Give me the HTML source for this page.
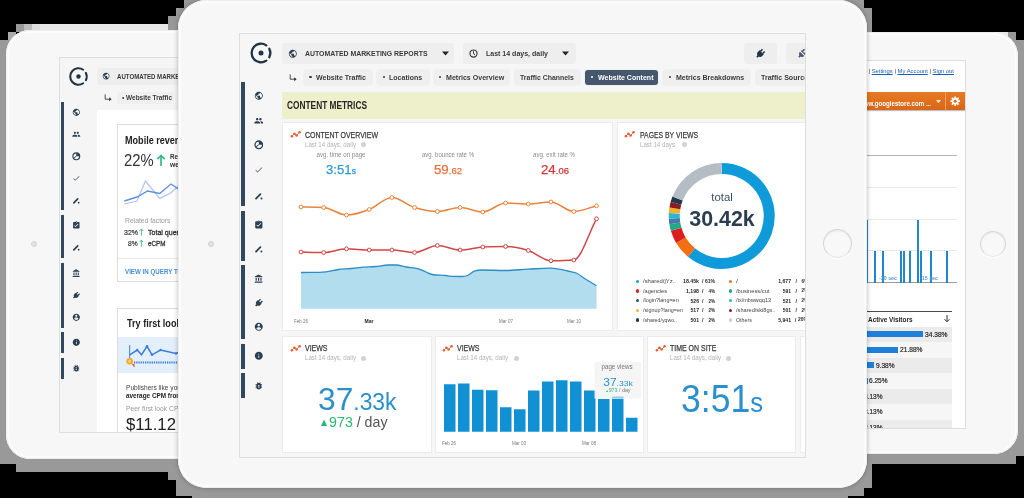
<!DOCTYPE html>
<html>
<head>
<meta charset="utf-8">
<title>Automated Marketing Reports</title>
<style>
*{box-sizing:border-box;margin:0;padding:0}
html,body{width:1024px;height:498px;overflow:hidden;background:#000}
body{position:relative;font-family:"Liberation Sans",sans-serif;color:#333;-webkit-font-smoothing:antialiased}
.abs{position:absolute}
#shadow{position:absolute;left:0;top:0;width:1024px;height:498px}
.tablet{position:absolute;background:#f7f7f7;overflow:hidden}
.tablet:after{content:"";position:absolute;left:0;top:0;right:0;bottom:0;border-radius:inherit;box-shadow:inset 0 0 0 1px #ededed, inset 0 0 0 3px #fcfcfc;pointer-events:none}
#tl{left:6px;top:30px;width:300px;height:429px;border-radius:24px}
#tr{left:720px;top:32px;width:298px;height:422px;border-radius:24px}
#tc{left:178px;top:0px;width:689px;height:488px;border-radius:28px;box-shadow:0 0 5px rgba(0,0,0,.28)}
.screen{position:absolute;overflow:hidden;background:#f6f6f6;border:1px solid #dedede}
.t{position:absolute;white-space:nowrap;line-height:1}
.pill{position:absolute;background:#eeeeee;border-radius:3px}
.card{position:absolute;background:#fff;border:1px solid #ececec}
.home{position:absolute;border-radius:50%;border:1.3px solid #d6d6d6;border-bottom-color:#e6e6e6;background:#f8f8f8;box-shadow:inset 0 1px 2px rgba(0,0,0,.07),0 1px 1px #fff}
.sb{position:absolute;background:#2f4a60}
.tab{top:70px;height:15px;font-size:7.6px;font-weight:bold;color:#3c3c3c;text-align:center;line-height:15px;white-space:nowrap;background:#efefef;box-shadow:0 0 0 1px #f0f0f0}
.tab.act{background:#44576d;color:#fff}
.tab span{display:inline-block}
</style>
</head>
<body>
<!-- blocky shadow layer -->
<svg id="shadow" viewBox="0 0 1024 498" shape-rendering="crispEdges">
  <g fill="#999">
    <rect x="0" y="40" width="16" height="424"/>
    <rect x="8" y="32" width="8" height="8" fill="#aaa"/>
    <rect x="16" y="24" width="8" height="8"/>
    <rect x="24" y="24" width="8" height="8" fill="#bbb"/>
    <rect x="32" y="24" width="8" height="8" fill="#ddd"/>
    <rect x="40" y="24" width="136" height="8" fill="#e8e8e8"/>
    <rect x="168" y="16" width="16" height="16"/>
    <rect x="176" y="8" width="16" height="16"/>
    <rect x="184" y="0" width="24" height="8"/>
    <rect x="16" y="440" width="152" height="32"/>
    <rect x="168" y="440" width="8" height="40"/>
    <rect x="176" y="440" width="16" height="56"/>
    <rect x="192" y="440" width="656" height="58"/>
    <rect x="848" y="440" width="16" height="56"/>
    <rect x="864" y="440" width="8" height="48"/>
    <rect x="872" y="440" width="144" height="24"/>
    <rect x="1008" y="40" width="16" height="416"/>
    <rect x="1008" y="32" width="8" height="8"/>
    <rect x="840" y="0" width="24" height="8"/>
    <rect x="856" y="8" width="16" height="24"/>
    <rect x="872" y="32" width="136" height="8" fill="#e8e8e8"/>
  </g>
</svg>

<!-- LEFT TABLET -->
<div class="tablet" id="tl">
  <div class="abs" style="left:25px;top:211px;width:6px;height:6px;border-radius:50%;background:#e2e2e2;border:1px solid #d4d4d4"></div>
  <div class="screen" id="sl" style="left:53px;top:27px;width:260px;height:375.5px;background:#f5f5f5">
  <div class="abs" style="left:-60px;top:-58px;width:1024px;height:498px;filter:blur(.45px)">
    <!-- white content area -->
    <div class="abs" style="left:97px;top:109.5px;width:120px;height:340px;background:#fff"></div>
    <!-- logo -->
    <svg class="abs" style="left:66.5px;top:64.5px" width="23" height="23" viewBox="-13 -13 26 26">
      <g fill="none" stroke="#1f3547" stroke-width="2.3" stroke-linecap="round">
        <path d="M5.3 -7.6 A9.3 9.3 0 1 0 5.3 7.6"/>
        <path d="M8.3 -4.2 A9.3 9.3 0 0 1 8.3 4.2"/>
      </g>
      <circle r="2.5" fill="#1f3547"/>
    </svg>
    <div class="pill" style="left:96.5px;top:67.5px;width:120px;height:17.5px"></div>
    <svg class="abs" style="left:102.2px;top:72px" width="8.2" height="8.2" viewBox="0 0 24 24"><path fill="#2a3f52" d="M12 2C6.48 2 2 6.48 2 12s4.48 10 10 10 10-4.48 10-10S17.52 2 12 2zm-1 17.93c-3.95-.49-7-3.85-7-7.93 0-.62.08-1.21.21-1.79L9 15v1c0 1.1.9 2 2 2v1.93zm6.9-2.54c-.26-.81-1-1.39-1.9-1.39h-1v-3c0-.55-.45-1-1-1H8v-2h2c.55 0 1-.45 1-1V7h2c1.1 0 2-.9 2-2v-.41c2.93 1.19 5 4.06 5 7.41 0 2.08-.8 3.97-2.1 5.39z"/></svg>
    <svg class="abs" style="left:104px;top:94px" width="8" height="8" viewBox="0 0 10 10"><path d="M1.5 0.5v6h6" fill="none" stroke="#333" stroke-width="1.1"/><path d="M6.5 4l3 2.5-3 2.5z" fill="#333"/></svg>
    <div class="pill" style="left:116.6px;top:91.6px;width:57px;height:12px;background:#efefef"></div>
    <!-- sidebar -->
    <div class="sb" style="left:60.7px;top:102px;width:3.4px;height:108.4px"></div>
    <div class="sb" style="left:60.7px;top:215px;width:3.4px;height:43px"></div>
    <div class="sb" style="left:60.7px;top:263px;width:3.4px;height:65px"></div>
    <div class="sb" style="left:60.7px;top:332.3px;width:3.4px;height:21px"></div>
    <div class="sb" style="left:60.7px;top:357.6px;width:3.4px;height:21.7px"></div>
    <svg class="abs" style="left:72.4px;top:108.1px" width="8.6" height="8.6" viewBox="0 0 24 24"><path fill="#2a3f52" d="M12 2C6.48 2 2 6.48 2 12s4.48 10 10 10 10-4.48 10-10S17.52 2 12 2zm-1 17.93c-3.95-.49-7-3.85-7-7.93 0-.62.08-1.21.21-1.79L9 15v1c0 1.1.9 2 2 2v1.93zm6.9-2.54c-.26-.81-1-1.39-1.9-1.39h-1v-3c0-.55-.45-1-1-1H8v-2h2c.55 0 1-.45 1-1V7h2c1.1 0 2-.9 2-2v-.41c2.93 1.19 5 4.06 5 7.41 0 2.08-.8 3.97-2.1 5.39z"/></svg>
<svg class="abs" style="left:72.4px;top:130.0px" width="8.6" height="8.6" viewBox="0 0 24 24"><path fill="#2a3f52" d="M16 11c1.66 0 2.99-1.34 2.99-3S17.66 5 16 5c-1.66 0-3 1.34-3 3s1.34 3 3 3zm-8 0c1.66 0 2.99-1.34 2.99-3S9.66 5 8 5C6.34 5 5 6.34 5 8s1.34 3 3 3zm0 2c-2.33 0-7 1.17-7 3.5V19h14v-2.5c0-2.33-4.67-3.5-7-3.5zm8 0c-.29 0-.62.02-.97.05 1.16.84 1.97 1.97 1.97 3.45V19h6v-2.5c0-2.33-4.67-3.5-7-3.5z"/></svg>
<svg class="abs" style="left:72.4px;top:152.0px" width="8.6" height="8.6" viewBox="0 0 24 24"><circle cx="12" cy="12" r="9.5" fill="none" stroke="#2a3f52" stroke-width="3.2"/><path d="M12 12L12 3A9 9 0 0 1 21 12z" fill="#2a3f52"/><path d="M12 12L5 17" stroke="#2a3f52" stroke-width="2.5"/></svg>
<svg class="abs" style="left:72.4px;top:174.2px" width="8.6" height="8.6" viewBox="0 0 24 24"><path fill="#55616c" d="M9 16.17L4.83 12l-1.42 1.41L9 19 21 7l-1.41-1.41z"/></svg>
<svg class="abs" style="left:72.4px;top:195.7px" width="8.6" height="8.6" viewBox="0 0 24 24"><path d="M5 19L16 8" stroke="#2a3f52" stroke-width="4.6" stroke-linecap="round"/><circle cx="18.6" cy="18.6" r="2.5" fill="#2a3f52"/></svg>
<svg class="abs" style="left:72.4px;top:221.2px" width="8.6" height="8.6" viewBox="0 0 24 24"><path fill="#2a3f52" d="M19 3h-4.18C14.4 1.84 13.3 1 12 1c-1.3 0-2.4.84-2.82 2H5c-1.1 0-2 .9-2 2v14c0 1.1.9 2 2 2h14c1.1 0 2-.9 2-2V5c0-1.1-.9-2-2-2zm-7 0c.55 0 1 .45 1 1s-.45 1-1 1-1-.45-1-1 .45-1 1-1zm-2 14l-4-4 1.41-1.41L10 14.17l6.59-6.59L18 9l-8 8z"/></svg>
<svg class="abs" style="left:72.4px;top:243.2px" width="8.6" height="8.6" viewBox="0 0 24 24"><path d="M5 19L16 8" stroke="#2a3f52" stroke-width="4.6" stroke-linecap="round"/><circle cx="18.6" cy="18.6" r="2.5" fill="#2a3f52"/></svg>
<svg class="abs" style="left:72.4px;top:268.7px" width="8.6" height="8.6" viewBox="0 0 24 24"><path fill="#2a3f52" d="M4 10v7h3v-7H4zm6 0v7h3v-7h-3zM2 22h19v-3H2v3zm14-12v7h3v-7h-3zm-4.5-9L2 6v2h19V6l-9.5-5z"/></svg>
<svg class="abs" style="left:72.4px;top:290.7px" width="8.6" height="8.6" viewBox="0 0 24 24"><g transform="rotate(45 12 12)"><path d="M5.5 8.5h13v4.5a6.5 6.5 0 0 1-13 0z" fill="#2a3f52"/><path d="M8.7 2.5v7M15.3 2.5v7" stroke="#2a3f52" stroke-width="3.2"/><path d="M12 18v5" stroke="#2a3f52" stroke-width="4"/></g></svg>
<svg class="abs" style="left:72.4px;top:313.1px" width="8.6" height="8.6" viewBox="0 0 24 24"><path fill="#2a3f52" d="M12 2C6.48 2 2 6.48 2 12s4.48 10 10 10 10-4.48 10-10S17.52 2 12 2zm0 3c1.66 0 3 1.34 3 3s-1.34 3-3 3-3-1.34-3-3 1.34-3 3-3zm0 14.2c-2.5 0-4.71-1.28-6-3.22.030-1.99 4-3.08 6-3.08 1.99 0 5.97 1.09 6 3.08-1.29 1.94-3.5 3.22-6 3.22z"/></svg>
<svg class="abs" style="left:72.4px;top:338.4px" width="8.6" height="8.6" viewBox="0 0 24 24"><path fill="#2a3f52" d="M12 2C6.48 2 2 6.48 2 12s4.48 10 10 10 10-4.48 10-10S17.52 2 12 2zm1 15h-2v-6h2v6zm0-8h-2V7h2v2z"/></svg>
<svg class="abs" style="left:72.4px;top:364.0px" width="8.6" height="8.6" viewBox="0 0 24 24"><path fill="#2a3f52" d="M20 8h-2.81c-.45-.78-1.07-1.45-1.82-1.96L17 4.41 15.59 3l-2.17 2.17C12.96 5.06 12.49 5 12 5c-.49 0-.96.06-1.41.170L8.41 3 7 4.41l1.62 1.63C7.88 6.55 7.26 7.22 6.81 8H4v2h2.09c-.05.33-.09.66-.09 1v1H4v2h2v1c0 .34.04.67.09 1H4v2h2.81c1.04 1.79 2.97 3 5.19 3s4.15-1.21 5.19-3H20v-2h-2.09c.05-.33.09-.66.09-1v-1h2v-2h-2v-1c0-.34-.04-.67-.09-1H20V8zm-6 8h-4v-2h4v2zm0-4h-4v-2h4v2z"/></svg>
    <!-- card 1 -->
    <div class="abs" style="left:116.5px;top:123.5px;width:100px;height:158px;background:#fff;border:1px solid #dcdcdc"></div>
    <div class="abs" style="left:117.5px;top:258px;width:100px;height:1px;background:#e8e8e8"></div>
    <!-- card 2 -->
    <div class="abs" style="left:116.5px;top:307.5px;width:100px;height:140px;background:#fff;border:1px solid #dcdcdc"></div>
    <div class="abs" style="left:117.5px;top:336.5px;width:100px;height:36.5px;background:#e3effb"></div>
    <svg class="abs" style="left:0;top:0" width="1024" height="498" viewBox="0 0 1024 498">
      <path d="M124.3 204 L137 201 L145.4 181 L153.7 191 L159.7 198.4 L170 193.5 L178.5 186" fill="none" stroke="#aec4ee" stroke-width="1.2"/>
      <path d="M124.3 201 L137 197 L147.6 191 L159.7 193.5 L171 184 L178.5 189" fill="none" stroke="#5f90da" stroke-width="1.4"/>
      <!-- green arrows -->
      <g fill="none" stroke="#3bb98a" stroke-width="1.7"><path d="M161 166V155.5M157.3 159.2L161 155.5L164.7 159.2"/></g>
      <g fill="none" stroke="#3bb98a" stroke-width=".9"><path d="M141.4 235.5V229M139.5 231L141.4 229L143.3 231"/><path d="M141.4 246.7V240.2M139.5 242.2L141.4 240.2L143.3 242.2"/></g>
      <!-- mini chart card 2 -->
      <path d="M129.7 345V363" stroke="#3a7edc" stroke-width="1"/>
      <path d="M129.7 354.8L137.2 350L141.5 354.8L147 346.3L152 354.8L160.5 350L176 353.4L180 352" fill="none" stroke="#3a7edc" stroke-width="1.5"/>
      <g fill="#3a7edc"><circle cx="137.2" cy="350" r="1.2"/><circle cx="147" cy="346.3" r="1.2"/><circle cx="152" cy="354.8" r="1.2"/><circle cx="160.5" cy="350" r="1.2"/><circle cx="176" cy="353.4" r="1.2"/></g>
      <path d="M134 362.4H180" stroke="#3a7edc" stroke-width="2" stroke-dasharray="1.3 .9"/>
      <path d="M131 363l3.5 4.5 0-3z" fill="#e0452c"/>
      <circle cx="129.7" cy="361.2" r="3.3" fill="#f5a623"/>
      <circle cx="129.7" cy="361.2" r="1.6" fill="#fbd27a"/>
    </svg>
    <div class="t" id="L1" style="left:117.00px;top:72.63px;font-size:7.4px;color:#3a3a3a;font-weight:bold;transform-origin:0 50%;transform:scaleX(0.8249)">AUTOMATED MARKETING</div>
<div class="t" id="L2" style="left:121.70px;top:94.82px;font-size:6.8px;color:#3c3c3c;font-weight:bold;transform-origin:0 50%;transform:scaleX(0.9524)">&bull; Website Traffic</div>
<div class="t" id="L3" style="left:124.50px;top:135.58px;font-size:10.2px;color:#222;font-weight:bold;transform-origin:0 50%;transform:scaleX(0.8898)">Mobile revenue</div>
<div class="t" id="L4" style="left:124.30px;top:152.39px;font-size:16.2px;color:#333;transform-origin:0 50%;transform:scaleX(0.9165)">22%</div>
<div class="t" id="L5" style="left:169.80px;top:153.82px;font-size:6.8px;color:#333;font-weight:bold;transform-origin:0 50%;transform:scaleX(0.9192)">Re</div>
<div class="t" id="L6" style="left:169.80px;top:161.51px;font-size:6.8px;color:#333;font-weight:bold;transform-origin:0 50%;transform:scaleX(0.9914)">we</div>
<div class="t" id="L7" style="left:124.50px;top:217.52px;font-size:6.8px;color:#9a9a9a;transform-origin:0 50%;transform:scaleX(0.9952)">Related factors</div>
<div class="t" id="L8" style="left:123.70px;top:228.54px;font-size:7.8px;color:#333;-webkit-text-stroke:.2px #333;transform-origin:0 50%;transform:scaleX(0.8969)">32%</div>
<div class="t" id="L9" style="left:147.80px;top:229.13px;font-size:7px;color:#333;-webkit-text-stroke:.3px #333;transform-origin:0 50%;transform:scaleX(1.0073)">Total query</div>
<div class="t" id="L10" style="left:128.00px;top:239.74px;font-size:7.8px;color:#333;-webkit-text-stroke:.2px #333;transform-origin:0 50%;transform:scaleX(0.8598)">8%</div>
<div class="t" id="L11" style="left:147.80px;top:240.33px;font-size:7px;color:#333;-webkit-text-stroke:.3px #333;transform-origin:0 50%;transform:scaleX(0.8996)">eCPM</div>
<div class="t" id="L12" style="left:124.50px;top:268.82px;font-size:6.4px;color:#4a8fd8;font-weight:bold;transform-origin:0 50%;transform:scaleX(0.9697)">VIEW IN QUERY TOOL</div>
<div class="t" id="L13" style="left:126.50px;top:318.58px;font-size:10.2px;color:#222;font-weight:bold;transform-origin:0 50%;transform:scaleX(0.8914)">Try first look</div>
<div class="t" id="L14" style="left:126.00px;top:384.92px;font-size:6.4px;color:#444;transform-origin:0 50%;transform:scaleX(1.0320)">Publishers like you</div>
<div class="t" id="L15" style="left:126.00px;top:392.94px;font-size:6.4px;color:#222;font-weight:bold;transform-origin:0 50%;transform:scaleX(0.9978)">average CPM from</div>
<div class="t" id="L16" style="left:126.00px;top:405.82px;font-size:6.6px;color:#999;transform-origin:0 50%;transform:scaleX(1.0212)">Peer first look CPM</div>
<div class="t" id="L17" style="left:126.00px;top:415.80px;font-size:16.4px;color:#222;transform-origin:0 50%;transform:scaleX(1.0220)">$11.12</div>
  </div>
  </div>
</div>

<!-- RIGHT TABLET -->
<div class="tablet" id="tr">
  <div class="home" style="left:260px;top:199px;width:26px;height:26px"></div>
  <div class="screen" id="sr" style="left:-20px;top:28px;width:266px;height:369px;background:#fff">
  <div class="abs" style="left:-701px;top:-61px;width:1024px;height:498px;filter:blur(.45px)">
    <!-- orange bar -->
    <div class="abs" style="left:800px;top:92px;width:165px;height:17.6px;background:linear-gradient(#e87a22,#d9661a);box-shadow:0 1px 1px rgba(0,0,0,.25)"></div>
    <div class="abs" style="left:944.6px;top:92px;width:1px;height:17.6px;background:#f0a264"></div>
    <svg class="abs" style="left:935.5px;top:99.5px" width="5" height="3.4" viewBox="0 0 5 3.4"><path d="M0 0h5L2.5 3.4z" fill="#ffe3c8"/></svg>
    <!-- gear -->
    <svg class="abs" style="left:950.4px;top:95.6px" width="10.4" height="10.4" viewBox="0 0 24 24">
      <g stroke="#fff" stroke-width="4" stroke-linecap="butt"><path d="M12 1v22M1 12h22M4.2 4.2l15.6 15.6M19.8 4.2L4.2 19.8"/></g>
      <circle cx="12" cy="12" r="7.5" fill="#fff"/><circle cx="12" cy="12" r="3.6" fill="#dd6c1d"/>
    </svg>
    <!-- chart -->
    <svg class="abs" style="left:0;top:0" width="1024" height="498" viewBox="0 0 1024 498" shape-rendering="crispEdges">
      <g stroke="#e7e7e7" stroke-width="1"><path d="M860 187.5H957M860 219.5H957M860 250.5H957"/></g>
      <path d="M860 155.5H957" stroke="#b5b5b5" stroke-width="1"/>
      <path d="M860 282.5H957" stroke="#9a9a9a" stroke-width="1"/>
      <g fill="#2287d0">
        <rect x="866.2" y="219.5" width="1.6" height="63"/>
        <rect x="873.6" y="250.5" width="2.2" height="32"/>
        <rect x="881.5" y="250.5" width="2.2" height="32"/>
        <rect x="900.3" y="250.5" width="2" height="32"/>
        <rect x="903.2" y="250.5" width="2" height="32"/>
        <rect x="908.8" y="250.5" width="2.2" height="32"/>
        <rect x="916.6" y="219.5" width="2.4" height="63"/>
        <rect x="919.7" y="250.5" width="2" height="32"/>
        <rect x="930" y="250.5" width="2.2" height="32"/>
        <rect x="946.2" y="250.5" width="2.2" height="32"/>
      </g>
    </svg>
    <!-- table -->
    <div class="abs" style="left:860px;top:310.7px;width:91.5px;height:1.2px;background:#4a4a4a"></div>
    <div class="abs" style="left:860px;top:326.7px;width:91.5px;height:15.5px;background:#ebebeb"></div>
    <div class="abs" style="left:860px;top:342.2px;width:91.5px;height:15.5px;background:#f6f6f6"></div>
    <div class="abs" style="left:860px;top:357.7px;width:91.5px;height:15.5px;background:#ebebeb"></div>
    <div class="abs" style="left:860px;top:373.2px;width:91.5px;height:15.6px;background:#f6f6f6"></div>
    <div class="abs" style="left:860px;top:388.8px;width:91.5px;height:15.5px;background:#ebebeb"></div>
    <div class="abs" style="left:860px;top:404.3px;width:91.5px;height:15.5px;background:#f6f6f6"></div>
    <div class="abs" style="left:860px;top:419.8px;width:91.5px;height:12px;background:#ebebeb"></div>
    <div class="abs" style="left:860px;top:331px;width:62.7px;height:6px;background:#1f80d8"></div>
    <div class="abs" style="left:860px;top:346.5px;width:38px;height:6px;background:#1f80d8"></div>
    <div class="abs" style="left:860px;top:362px;width:14px;height:6px;background:#1f80d8"></div>
    <div class="abs" style="left:860px;top:377.6px;width:8px;height:6px;background:#1f80d8"></div>
    <svg class="abs" style="left:943.6px;top:315px" width="6" height="7.6" viewBox="0 0 6 7.6"><path d="M3 0V6.6M0.5 4.2L3 6.8L5.5 4.2" fill="none" stroke="#333" stroke-width="1"/></svg>
    <div class="t" id="R1" style="left:954.30px;top:68.21px;font-size:6.2px;color:#333;transform-origin:100% 50%;transform:translateX(-100%) scaleX(0.9449)">| <span style="color:#1a5fb4;text-decoration:underline">Settings</span> | <span style="color:#1a5fb4;text-decoration:underline">My Account</span> | <span style="color:#1a5fb4;text-decoration:underline">Sign out</span></div>
<div class="t" id="R2" style="left:930.50px;top:100.61px;font-size:6.8px;color:#fff;font-weight:bold;transform-origin:100% 50%;transform:translateX(-100%) scaleX(0.9021)">www.googlestore.com ...</div>
<div class="t" id="R3" style="left:888.00px;top:275.90px;font-size:5.6px;color:#5b9bd9;font-weight:bold;transform-origin:50% 50%;transform:translateX(-50%) scaleX(0.9481)">-30 sec</div>
<div class="t" id="R4" style="left:929.00px;top:275.90px;font-size:5.6px;color:#5b9bd9;font-weight:bold;transform-origin:50% 50%;transform:translateX(-50%) scaleX(0.9481)">-15 sec</div>
<div class="t" id="R5" style="left:868.00px;top:315.83px;font-size:7px;color:#222;font-weight:bold;transform-origin:0 50%;transform:scaleX(0.9172)">Active Visitors</div>
<div class="t" id="R6" style="left:924.70px;top:331.52px;font-size:6.6px;color:#2a2a2a;-webkit-text-stroke:.2px #2a2a2a;transform-origin:0 50%;transform:scaleX(1.0056)">34.38%</div>
<div class="t" id="R7" style="left:900.00px;top:346.52px;font-size:6.6px;color:#2a2a2a;-webkit-text-stroke:.2px #2a2a2a;transform-origin:0 50%;transform:scaleX(1.0056)">21.88%</div>
<div class="t" id="R8" style="left:875.70px;top:362.52px;font-size:6.6px;color:#2a2a2a;-webkit-text-stroke:.2px #2a2a2a;transform-origin:0 50%;transform:scaleX(0.9945)">9.38%</div>
<div class="t" id="R9" style="left:869.30px;top:377.62px;font-size:6.6px;color:#2a2a2a;-webkit-text-stroke:.2px #2a2a2a;transform-origin:0 50%;transform:scaleX(0.9945)">6.25%</div>
<div class="t" id="R10" style="left:863.60px;top:393.72px;font-size:6.6px;color:#2a2a2a;-webkit-text-stroke:.2px #2a2a2a;transform-origin:0 50%;transform:scaleX(0.9945)">3.13%</div>
<div class="t" id="R11" style="left:863.60px;top:408.82px;font-size:6.6px;color:#2a2a2a;-webkit-text-stroke:.2px #2a2a2a;transform-origin:0 50%;transform:scaleX(0.9945)">3.13%</div>
<div class="t" id="R12" style="left:863.60px;top:424.92px;font-size:6.6px;color:#2a2a2a;-webkit-text-stroke:.2px #2a2a2a;transform-origin:0 50%;transform:scaleX(0.9945)">3.13%</div>
  </div>
  </div>
</div>

<!-- CENTER TABLET -->
<div class="tablet" id="tc">
  <div class="abs" style="left:29.5px;top:241px;width:6px;height:6px;border-radius:50%;background:#e2e2e2;border:1px solid #d4d4d4"></div>
  <div class="abs" style="left:26px;top:0;width:637px;height:1px;background:#b4b4b4"></div>
  <div class="home" style="left:645px;top:229px;width:29px;height:29px"></div>
  <div class="screen" id="sc" style="left:61px;top:33px;width:567px;height:425px">
  <div class="abs" id="cw" style="left:-240px;top:-34px;width:1024px;height:498px;filter:blur(.45px)">
    <!-- logo -->
    <svg class="abs" style="left:248px;top:40px" width="26" height="26" viewBox="-13 -13 26 26">
      <g fill="none" stroke="#1f3547" stroke-width="2.3" stroke-linecap="round">
        <path d="M5.3 -7.6 A9.3 9.3 0 1 0 5.3 7.6"/>
        <path d="M8.3 -4.2 A9.3 9.3 0 0 1 8.3 4.2"/>
      </g>
      <circle r="2.5" fill="#1f3547"/>
    </svg>
    <!-- header pills -->
    <div class="pill" style="left:282px;top:43px;width:172px;height:21px"></div>
    <div class="pill" style="left:463px;top:43px;width:113px;height:21px"></div>
    <div class="pill" style="left:744px;top:43px;width:33px;height:21px"></div>
    <div class="pill" style="left:786px;top:43px;width:33px;height:21px"></div>
    <svg class="abs" style="left:287.7px;top:48.6px" width="9.6" height="9.6" viewBox="0 0 24 24"><path fill="#2a3f52" d="M12 2C6.48 2 2 6.48 2 12s4.48 10 10 10 10-4.48 10-10S17.52 2 12 2zm-1 17.93c-3.95-.49-7-3.85-7-7.93 0-.62.08-1.21.21-1.79L9 15v1c0 1.1.9 2 2 2v1.93zm6.9-2.54c-.26-.81-1-1.39-1.9-1.39h-1v-3c0-.55-.45-1-1-1H8v-2h2c.55 0 1-.45 1-1V7h2c1.1 0 2-.9 2-2v-.41c2.93 1.19 5 4.06 5 7.41 0 2.08-.8 3.97-2.1 5.39z"/></svg>
    <svg class="abs" style="left:442px;top:51px" width="7" height="5" viewBox="0 0 7 5"><path d="M0 0.5h7L3.5 4.5z" fill="#222"/></svg>
    <svg class="abs" style="left:469px;top:49px" width="9" height="9" viewBox="0 0 24 24"><circle cx="12" cy="12" r="9.5" fill="none" stroke="#333" stroke-width="3"/><path d="M12 6v6.5l4 2.5" fill="none" stroke="#333" stroke-width="2.6"/></svg>
    <svg class="abs" style="left:562px;top:51px" width="7" height="5" viewBox="0 0 7 5"><path d="M0 0.5h7L3.5 4.5z" fill="#222"/></svg>
    <!-- plug icon -->
    <svg class="abs" style="left:755.4px;top:47.9px" width="11" height="11" viewBox="0 0 24 24"><g transform="rotate(45 12 12)"><path d="M5.5 8.500h13v4.500a6.5 6.5 0 0 1-13 0z" fill="#1f3547"/><path d="M8.7 2.500v7M15.3 2.500v7" stroke="#1f3547" stroke-width="3.2"/><path d="M12 18v5" stroke="#1f3547" stroke-width="4"/></g></svg>
    <svg class="abs" style="left:796.6px;top:47.9px" width="11" height="11" viewBox="0 0 24 24"><g transform="rotate(45 12 12)"><path d="M5.5 8.500h13v4.500a6.5 6.5 0 0 1-13 0z" fill="#4a5a6a"/><path d="M8.7 2.500v7M15.3 2.500v7" stroke="#4a5a6a" stroke-width="3.2"/><path d="M12 18v5" stroke="#4a5a6a" stroke-width="4"/></g><path d="M3 3L21 21" stroke="#eee" stroke-width="2.2"/></svg>

    <!-- tabs row -->
    <svg class="abs" style="left:289.3px;top:73.6px" width="8" height="8" viewBox="0 0 10 10"><path d="M1.5 0.5v6h6" fill="none" stroke="#333" stroke-width="1.1"/><path d="M6.5 4l3 2.5-3 2.5z" fill="#333"/></svg>
    <div class="pill tab" style="left:304px;width:68px"></div>
    <div class="pill tab" style="left:377px;width:52px"></div>
    <div class="pill tab" style="left:434px;width:75px"></div>
    <div class="pill tab" style="left:515px;width:65px"></div>
    <div class="pill tab act" style="left:585px;width:73px"></div>
    <div class="pill tab" style="left:663px;width:87px"></div>
    <div class="pill tab" style="left:755.5px;width:70px"></div>

    <!-- sidebar -->
    <div class="sb" style="left:240.6px;top:82.3px;width:4.2px;height:124.2px"></div>
    <div class="sb" style="left:240.6px;top:211.4px;width:4.2px;height:49.3px"></div>
    <div class="sb" style="left:240.6px;top:265.4px;width:4.2px;height:73.6px"></div>
    <div class="sb" style="left:240.6px;top:344px;width:4.2px;height:24.5px"></div>
    <div class="sb" style="left:240.6px;top:373.2px;width:4.2px;height:24.8px"></div>
    <svg class="abs" style="left:253.9px;top:90.5px" width="9.6" height="9.6" viewBox="0 0 24 24"><path fill="#2a3f52" d="M12 2C6.48 2 2 6.48 2 12s4.48 10 10 10 10-4.48 10-10S17.52 2 12 2zm-1 17.93c-3.95-.49-7-3.85-7-7.93 0-.62.08-1.21.21-1.79L9 15v1c0 1.1.9 2 2 2v1.93zm6.9-2.54c-.26-.81-1-1.39-1.9-1.39h-1v-3c0-.55-.45-1-1-1H8v-2h2c.55 0 1-.45 1-1V7h2c1.1 0 2-.9 2-2v-.41c2.93 1.19 5 4.06 5 7.41 0 2.08-.8 3.97-2.1 5.39z"/></svg>
<svg class="abs" style="left:253.9px;top:115.7px" width="9.6" height="9.6" viewBox="0 0 24 24"><path fill="#2a3f52" d="M16 11c1.66 0 2.99-1.34 2.99-3S17.66 5 16 5c-1.66 0-3 1.34-3 3s1.34 3 3 3zm-8 0c1.66 0 2.99-1.34 2.99-3S9.66 5 8 5C6.34 5 5 6.34 5 8s1.34 3 3 3zm0 2c-2.33 0-7 1.17-7 3.5V19h14v-2.5c0-2.33-4.67-3.5-7-3.5zm8 0c-.29 0-.62.02-.97.05 1.16.84 1.97 1.97 1.97 3.45V19h6v-2.5c0-2.33-4.67-3.5-7-3.5z"/></svg>
<svg class="abs" style="left:253.9px;top:140.2px" width="9.6" height="9.6" viewBox="0 0 24 24"><circle cx="12" cy="12" r="9.5" fill="none" stroke="#2a3f52" stroke-width="3.2"/><path d="M12 12L12 3A9 9 0 0 1 21 12z" fill="#2a3f52"/><path d="M12 12L5 17" stroke="#2a3f52" stroke-width="2.5"/></svg>
<svg class="abs" style="left:253.9px;top:165.3px" width="9.6" height="9.6" viewBox="0 0 24 24"><path fill="#55616c" d="M9 16.17L4.83 12l-1.42 1.41L9 19 21 7l-1.41-1.41z"/></svg>
<svg class="abs" style="left:253.9px;top:190.5px" width="9.6" height="9.6" viewBox="0 0 24 24"><path d="M5 19L16 8" stroke="#2a3f52" stroke-width="4.6" stroke-linecap="round"/><circle cx="18.6" cy="18.6" r="2.5" fill="#2a3f52"/></svg>
<svg class="abs" style="left:253.9px;top:219.5px" width="9.6" height="9.6" viewBox="0 0 24 24"><path fill="#2a3f52" d="M19 3h-4.18C14.4 1.84 13.3 1 12 1c-1.3 0-2.4.84-2.82 2H5c-1.1 0-2 .9-2 2v14c0 1.1.9 2 2 2h14c1.1 0 2-.9 2-2V5c0-1.1-.9-2-2-2zm-7 0c.55 0 1 .45 1 1s-.45 1-1 1-1-.45-1-1 .45-1 1-1zm-2 14l-4-4 1.41-1.41L10 14.17l6.59-6.59L18 9l-8 8z"/></svg>
<svg class="abs" style="left:253.9px;top:243.9px" width="9.6" height="9.6" viewBox="0 0 24 24"><path d="M5 19L16 8" stroke="#2a3f52" stroke-width="4.6" stroke-linecap="round"/><circle cx="18.6" cy="18.6" r="2.5" fill="#2a3f52"/></svg>
<svg class="abs" style="left:253.9px;top:273.5px" width="9.6" height="9.6" viewBox="0 0 24 24"><path fill="#2a3f52" d="M4 10v7h3v-7H4zm6 0v7h3v-7h-3zM2 22h19v-3H2v3zm14-12v7h3v-7h-3zm-4.5-9L2 6v2h19V6l-9.5-5z"/></svg>
<svg class="abs" style="left:253.9px;top:298.1px" width="9.6" height="9.6" viewBox="0 0 24 24"><g transform="rotate(45 12 12)"><path d="M5.5 8.5h13v4.5a6.5 6.5 0 0 1-13 0z" fill="#2a3f52"/><path d="M8.7 2.5v7M15.3 2.5v7" stroke="#2a3f52" stroke-width="3.2"/><path d="M12 18v5" stroke="#2a3f52" stroke-width="4"/></g></svg>
<svg class="abs" style="left:253.9px;top:322.0px" width="9.6" height="9.6" viewBox="0 0 24 24"><path fill="#2a3f52" d="M12 2C6.48 2 2 6.48 2 12s4.48 10 10 10 10-4.48 10-10S17.52 2 12 2zm0 3c1.66 0 3 1.34 3 3s-1.34 3-3 3-3-1.34-3-3 1.34-3 3-3zm0 14.2c-2.5 0-4.71-1.28-6-3.22.030-1.99 4-3.08 6-3.08 1.99 0 5.97 1.09 6 3.08-1.29 1.94-3.5 3.22-6 3.22z"/></svg>
<svg class="abs" style="left:253.9px;top:351.2px" width="9.6" height="9.6" viewBox="0 0 24 24"><path fill="#2a3f52" d="M12 2C6.48 2 2 6.48 2 12s4.48 10 10 10 10-4.48 10-10S17.52 2 12 2zm1 15h-2v-6h2v6zm0-8h-2V7h2v2z"/></svg>
<svg class="abs" style="left:253.9px;top:380.5px" width="9.6" height="9.6" viewBox="0 0 24 24"><path fill="#2a3f52" d="M20 8h-2.81c-.45-.78-1.07-1.45-1.82-1.96L17 4.41 15.59 3l-2.17 2.17C12.96 5.06 12.49 5 12 5c-.49 0-.96.06-1.41.170L8.41 3 7 4.41l1.62 1.63C7.88 6.55 7.26 7.22 6.81 8H4v2h2.09c-.05.33-.09.66-.09 1v1H4v2h2v1c0 .34.04.67.09 1H4v2h2.81c1.04 1.79 2.97 3 5.19 3s4.15-1.21 5.19-3H20v-2h-2.09c.05-.33.09-.66.09-1v-1h2v-2h-2v-1c0-.34-.04-.67-.09-1H20V8zm-6 8h-4v-2h4v2zm0-4h-4v-2h4v2z"/></svg>

    <!-- banner -->
    <div class="abs" style="left:282px;top:91.9px;width:530px;height:26.7px;background:#eef0cc"></div>

    <div class="card" style="left:282px;top:122px;width:331px;height:209px"></div>
<div class="card" style="left:617px;top:122px;width:200px;height:209px"></div>
<div class="card" style="left:282px;top:336px;width:150px;height:117px"></div>
<div class="card" style="left:435px;top:336px;width:209px;height:117px"></div>
<div class="card" style="left:647px;top:336px;width:149px;height:117px"></div>
<div class="card" style="left:800px;top:336px;width:20px;height:117px"></div>
<svg class="abs" style="left:0;top:0" width="1024" height="498" viewBox="0 0 1024 498">
<path d="M301.0 272.5 C309.3 272.3 317.7 272.5 326.0 271.8 C330.2 271.4 334.3 270.0 338.5 269.5 C342.7 269.0 346.8 268.9 351.0 268.5 C355.2 268.1 359.3 267.6 363.5 267.2 C367.7 266.9 371.8 266.9 376.0 266.5 C380.2 266.1 384.3 265.0 388.5 265.0 C391.0 265.0 393.5 265.0 396.0 265.0 C399.3 265.0 402.7 266.4 406.0 267.0 C410.2 267.7 414.3 267.6 418.5 268.8 C421.0 269.5 423.5 271.0 426.0 272.0 C428.1 272.9 430.2 274.1 432.2 274.5 C436.8 275.4 441.4 275.0 446.0 275.5 C447.3 275.6 448.7 276.2 450.0 276.2 C454.2 276.5 458.3 276.5 462.5 276.5 C464.2 276.5 465.8 276.2 467.5 275.5 C470.0 274.5 472.5 271.5 475.0 270.8 C477.5 270.0 480.0 270.0 482.5 270.0 C490.0 270.0 497.5 270.5 505.0 270.5 C512.5 270.5 520.0 269.6 527.5 269.2 C535.0 268.9 542.5 268.2 550.0 268.2 C552.5 268.2 555.0 268.4 557.5 268.8 C560.8 269.2 564.2 270.2 567.5 271.0 C570.4 271.7 573.3 271.7 576.2 273.0 C579.2 274.3 582.1 276.9 585.0 278.8 C588.8 281.2 592.7 283.4 596.5 285.8 L596.5 308.7 L301.0 308.7 Z" fill="#b2ddef"/>
<path d="M301.0 272.5 C309.3 272.3 317.7 272.5 326.0 271.8 C330.2 271.4 334.3 270.0 338.5 269.5 C342.7 269.0 346.8 268.9 351.0 268.5 C355.2 268.1 359.3 267.6 363.5 267.2 C367.7 266.9 371.8 266.9 376.0 266.5 C380.2 266.1 384.3 265.0 388.5 265.0 C391.0 265.0 393.5 265.0 396.0 265.0 C399.3 265.0 402.7 266.4 406.0 267.0 C410.2 267.7 414.3 267.6 418.5 268.8 C421.0 269.5 423.5 271.0 426.0 272.0 C428.1 272.9 430.2 274.1 432.2 274.5 C436.8 275.4 441.4 275.0 446.0 275.5 C447.3 275.6 448.7 276.2 450.0 276.2 C454.2 276.5 458.3 276.5 462.5 276.5 C464.2 276.5 465.8 276.2 467.5 275.5 C470.0 274.5 472.5 271.5 475.0 270.8 C477.5 270.0 480.0 270.0 482.5 270.0 C490.0 270.0 497.5 270.5 505.0 270.5 C512.5 270.5 520.0 269.6 527.5 269.2 C535.0 268.9 542.5 268.2 550.0 268.2 C552.5 268.2 555.0 268.4 557.5 268.8 C560.8 269.2 564.2 270.2 567.5 271.0 C570.4 271.7 573.3 271.7 576.2 273.0 C579.2 274.3 582.1 276.9 585.0 278.8 C588.8 281.2 592.7 283.4 596.5 285.8" fill="none" stroke="#2c8cc4" stroke-width="1.3"/>
<path d="M301.0 207.0 C308.6 207.1 316.2 207.0 323.7 207.5 C331.3 208.0 338.9 215.0 346.5 215.0 C354.0 215.0 361.6 212.4 369.2 209.5 C376.8 206.6 384.3 197.5 391.9 197.5 C399.5 197.5 407.1 205.2 414.6 207.5 C422.2 209.8 429.8 211.5 437.4 211.5 C445.0 211.5 452.5 207.5 460.1 207.5 C467.7 207.5 475.3 212.0 482.8 212.0 C490.4 212.0 498.0 203.0 505.6 203.0 C513.1 203.0 520.7 204.0 528.3 204.0 C535.9 204.0 543.5 202.0 551.0 202.0 C558.6 202.0 566.2 211.5 573.8 211.5 C581.3 211.5 588.9 207.7 596.5 205.8" fill="none" stroke="#e8843c" stroke-width="1.5"/>
<path d="M301.0 252.0 C308.6 252.2 316.2 252.5 323.7 252.5 C331.3 252.5 338.9 248.8 346.5 248.8 C354.0 248.8 361.6 250.0 369.2 250.0 C376.8 250.0 384.3 250.0 391.9 250.0 C399.5 250.0 407.1 252.5 414.6 252.5 C422.2 252.5 429.8 245.5 437.4 245.5 C445.0 245.5 452.5 250.0 460.1 250.0 C467.7 250.0 475.3 247.5 482.8 247.0 C490.4 246.5 498.0 246.5 505.6 246.5 C513.1 246.5 520.7 248.1 528.3 250.5 C535.9 252.9 543.5 260.8 551.0 260.8 C558.6 260.8 566.2 260.8 573.8 260.0 C581.3 259.2 588.9 232.5 596.5 218.8" fill="none" stroke="#d24646" stroke-width="1.5"/>
<circle cx="301.0" cy="207.0" r="1.9" fill="#fff" stroke="#e8843c" stroke-width="1"/>
<circle cx="323.7" cy="207.5" r="1.9" fill="#fff" stroke="#e8843c" stroke-width="1"/>
<circle cx="346.5" cy="215.0" r="1.9" fill="#fff" stroke="#e8843c" stroke-width="1"/>
<circle cx="369.2" cy="209.5" r="1.9" fill="#fff" stroke="#e8843c" stroke-width="1"/>
<circle cx="391.9" cy="197.5" r="1.9" fill="#fff" stroke="#e8843c" stroke-width="1"/>
<circle cx="414.6" cy="207.5" r="1.9" fill="#fff" stroke="#e8843c" stroke-width="1"/>
<circle cx="437.4" cy="211.5" r="1.9" fill="#fff" stroke="#e8843c" stroke-width="1"/>
<circle cx="460.1" cy="207.5" r="1.9" fill="#fff" stroke="#e8843c" stroke-width="1"/>
<circle cx="482.8" cy="212.0" r="1.9" fill="#fff" stroke="#e8843c" stroke-width="1"/>
<circle cx="505.6" cy="203.0" r="1.9" fill="#fff" stroke="#e8843c" stroke-width="1"/>
<circle cx="528.3" cy="204.0" r="1.9" fill="#fff" stroke="#e8843c" stroke-width="1"/>
<circle cx="551.0" cy="202.0" r="1.9" fill="#fff" stroke="#e8843c" stroke-width="1"/>
<circle cx="573.8" cy="211.5" r="1.9" fill="#fff" stroke="#e8843c" stroke-width="1"/>
<circle cx="596.5" cy="205.8" r="1.9" fill="#fff" stroke="#e8843c" stroke-width="1"/>
<circle cx="301.0" cy="252.0" r="1.9" fill="#fff" stroke="#d24646" stroke-width="1"/>
<circle cx="323.7" cy="252.5" r="1.9" fill="#fff" stroke="#d24646" stroke-width="1"/>
<circle cx="346.5" cy="248.8" r="1.9" fill="#fff" stroke="#d24646" stroke-width="1"/>
<circle cx="369.2" cy="250.0" r="1.9" fill="#fff" stroke="#d24646" stroke-width="1"/>
<circle cx="391.9" cy="250.0" r="1.9" fill="#fff" stroke="#d24646" stroke-width="1"/>
<circle cx="414.6" cy="252.5" r="1.9" fill="#fff" stroke="#d24646" stroke-width="1"/>
<circle cx="437.4" cy="245.5" r="1.9" fill="#fff" stroke="#d24646" stroke-width="1"/>
<circle cx="460.1" cy="250.0" r="1.9" fill="#fff" stroke="#d24646" stroke-width="1"/>
<circle cx="482.8" cy="247.0" r="1.9" fill="#fff" stroke="#d24646" stroke-width="1"/>
<circle cx="505.6" cy="246.5" r="1.9" fill="#fff" stroke="#d24646" stroke-width="1"/>
<circle cx="528.3" cy="250.5" r="1.9" fill="#fff" stroke="#d24646" stroke-width="1"/>
<circle cx="551.0" cy="260.8" r="1.9" fill="#fff" stroke="#d24646" stroke-width="1"/>
<circle cx="573.8" cy="260.0" r="1.9" fill="#fff" stroke="#d24646" stroke-width="1"/>
<circle cx="596.5" cy="218.8" r="1.9" fill="#fff" stroke="#d24646" stroke-width="1"/>
<g transform="translate(291 131)"><path d="M0.8 5.2 L3.4 2.6 L5.6 4.6 L8.6 1.2" fill="none" stroke="#e8592b" stroke-width=".8"/><circle cx="0.9" cy="5.2" r="1.25" fill="#e8592b"/><circle cx="3.4" cy="2.7" r="1.25" fill="#e8592b"/><circle cx="5.6" cy="4.6" r="1.25" fill="#e8592b"/><circle cx="8.6" cy="1.3" r="1.25" fill="#e8592b"/></g>
<g transform="translate(625 131)"><path d="M0.8 5.2 L3.4 2.6 L5.6 4.6 L8.6 1.2" fill="none" stroke="#e8592b" stroke-width=".8"/><circle cx="0.9" cy="5.2" r="1.25" fill="#e8592b"/><circle cx="3.4" cy="2.7" r="1.25" fill="#e8592b"/><circle cx="5.6" cy="4.6" r="1.25" fill="#e8592b"/><circle cx="8.6" cy="1.3" r="1.25" fill="#e8592b"/></g>
<g transform="translate(291 345)"><path d="M0.8 5.2 L3.4 2.6 L5.6 4.6 L8.6 1.2" fill="none" stroke="#e8592b" stroke-width=".8"/><circle cx="0.9" cy="5.2" r="1.25" fill="#e8592b"/><circle cx="3.4" cy="2.7" r="1.25" fill="#e8592b"/><circle cx="5.6" cy="4.6" r="1.25" fill="#e8592b"/><circle cx="8.6" cy="1.3" r="1.25" fill="#e8592b"/></g>
<g transform="translate(443 345)"><path d="M0.8 5.2 L3.4 2.6 L5.6 4.6 L8.6 1.2" fill="none" stroke="#e8592b" stroke-width=".8"/><circle cx="0.9" cy="5.2" r="1.25" fill="#e8592b"/><circle cx="3.4" cy="2.7" r="1.25" fill="#e8592b"/><circle cx="5.6" cy="4.6" r="1.25" fill="#e8592b"/><circle cx="8.6" cy="1.3" r="1.25" fill="#e8592b"/></g>
<g transform="translate(656 345)"><path d="M0.8 5.2 L3.4 2.6 L5.6 4.6 L8.6 1.2" fill="none" stroke="#e8592b" stroke-width=".8"/><circle cx="0.9" cy="5.2" r="1.25" fill="#e8592b"/><circle cx="3.4" cy="2.7" r="1.25" fill="#e8592b"/><circle cx="5.6" cy="4.6" r="1.25" fill="#e8592b"/><circle cx="8.6" cy="1.3" r="1.25" fill="#e8592b"/></g>
<path d="M721.75 168.50 A47.5 47.5 0 1 1 691.47 252.60" fill="none" stroke="#0f9bd9" stroke-width="11"/>
<path d="M691.47 252.60 A47.5 47.5 0 0 1 680.86 240.18" fill="none" stroke="#f36f13" stroke-width="11"/>
<path d="M680.86 240.18 A47.5 47.5 0 0 1 676.14 229.25" fill="none" stroke="#dc1e1e" stroke-width="11"/>
<path d="M676.14 229.25 A47.5 47.5 0 0 1 674.83 223.43" fill="none" stroke="#21a884" stroke-width="11"/>
<path d="M674.83 223.43 A47.5 47.5 0 0 1 674.31 218.39" fill="none" stroke="#4a78a8" stroke-width="11"/>
<path d="M674.31 218.39 A47.5 47.5 0 0 1 674.33 213.32" fill="none" stroke="#29b6d8" stroke-width="11"/>
<path d="M674.33 213.32 A47.5 47.5 0 0 1 674.88 208.27" fill="none" stroke="#f5b32a" stroke-width="11"/>
<path d="M674.88 208.27 A47.5 47.5 0 0 1 675.97 203.32" fill="none" stroke="#8c1d24" stroke-width="11"/>
<path d="M675.97 203.32 A47.5 47.5 0 0 1 677.59 198.51" fill="none" stroke="#22364c" stroke-width="11"/>
<path d="M677.59 198.51 A47.5 47.5 0 0 1 721.75 168.50" fill="none" stroke="#b4bcc4" stroke-width="11"/>
<rect x="444.00" y="384.25" width="11.5" height="47.50" fill="#1191d4"/>
<rect x="458.00" y="383.50" width="11.5" height="48.25" fill="#1191d4"/>
<rect x="472.00" y="389.75" width="11.5" height="42.00" fill="#1191d4"/>
<rect x="486.00" y="390.25" width="11.5" height="41.50" fill="#1191d4"/>
<rect x="500.00" y="407.25" width="11.5" height="24.50" fill="#1191d4"/>
<rect x="514.00" y="409.25" width="11.5" height="22.50" fill="#1191d4"/>
<rect x="528.00" y="390.50" width="11.5" height="41.25" fill="#1191d4"/>
<rect x="542.00" y="381.50" width="11.5" height="50.25" fill="#1191d4"/>
<rect x="556.00" y="380.25" width="11.5" height="51.50" fill="#1191d4"/>
<rect x="570.00" y="381.50" width="11.5" height="50.25" fill="#1191d4"/>
<rect x="584.00" y="390.50" width="11.5" height="41.25" fill="#1191d4"/>
<rect x="598.00" y="399.00" width="11.5" height="32.75" fill="#1191d4"/>
<rect x="612.00" y="398.50" width="11.5" height="33.25" fill="#1191d4"/>
<rect x="626.00" y="417.75" width="11.5" height="14.00" fill="#1191d4"/>
<rect x="594.5" y="362" width="46.5" height="36.5" fill="#f4f4f4" fill-opacity=".88"/>
<rect x="612" y="396.6" width="11.5" height="1.2" fill="#7cc3ea"/>
</svg>
    <div class="t" id="h1" style="left:304.50px;top:49.59px;font-size:7.7px;color:#3a3a3a;font-weight:bold;transform-origin:0 50%;transform:scaleX(0.8982)">AUTOMATED MARKETING REPORTS</div>
<div class="t" id="h2" style="left:485.50px;top:49.99px;font-size:7.9px;color:#3a3a3a;font-weight:bold;transform-origin:0 50%;transform:scaleX(0.8889)">Last 14 days, daily</div>
<div class="t" id="bn" style="left:287.30px;top:100.64px;font-size:10.3px;color:#262626;font-weight:bold;transform-origin:0 50%;transform:scaleX(0.8083)">CONTENT METRICS</div>
<div class="t" id="c1a" style="left:305.00px;top:130.81px;font-size:8.9px;color:#3a3a3a;-webkit-text-stroke:.25px #3a3a3a;transform-origin:0 50%;transform:scaleX(0.7860)">CONTENT OVERVIEW</div>
<div class="t" id="c1b" style="left:305.00px;top:140.73px;font-size:7.4px;color:#b2b2b2;transform-origin:0 50%;transform:scaleX(0.8331)">Last 14 days, daily</div>
<div class="t" id="c1c" style="left:341.00px;top:151.29px;font-size:7px;color:#8a8a8a;transform-origin:50% 50%;transform:translateX(-50%) scaleX(0.8804)">avg. time on page</div>
<div class="t" id="c1d" style="left:341.00px;top:162.64px;font-size:13.2px;color:#2e9bd6;-webkit-text-stroke:.25px #2e9bd6;transform-origin:50% 50%;transform:translateX(-50%) scaleX(0.9902)">3:51<span style="font-size:70%">s</span></div>
<div class="t" id="c1e" style="left:447.60px;top:151.29px;font-size:7px;color:#8a8a8a;transform-origin:50% 50%;transform:translateX(-50%) scaleX(0.8620)">avg. bounce rate %</div>
<div class="t" id="c1f" style="left:448.00px;top:162.64px;font-size:13.2px;color:#e8703a;-webkit-text-stroke:.25px #e8703a;transform-origin:50% 50%;transform:translateX(-50%) scaleX(1.0039)">59<span style="font-size:72%">.62</span></div>
<div class="t" id="c1g" style="left:554.00px;top:151.29px;font-size:7px;color:#8a8a8a;transform-origin:50% 50%;transform:translateX(-50%) scaleX(0.8705)">avg. exit rate %</div>
<div class="t" id="c1h" style="left:554.70px;top:162.64px;font-size:13.2px;color:#d6343a;-webkit-text-stroke:.25px #d6343a;transform-origin:50% 50%;transform:translateX(-50%) scaleX(1.0039)">24<span style="font-size:72%">.06</span></div>
<div class="t" id="x1" style="left:301.00px;top:318.80px;font-size:5.4px;color:#777;transform-origin:50% 50%;transform:translateX(-50%) scaleX(0.8335)">Feb 26</div>
<div class="t" id="x2" style="left:369.00px;top:318.70px;font-size:5.6px;color:#222;font-weight:bold;transform-origin:50% 50%;transform:translateX(-50%) scaleX(0.9042)">Mar</div>
<div class="t" id="x3" style="left:505.50px;top:318.80px;font-size:5.4px;color:#777;transform-origin:50% 50%;transform:translateX(-50%) scaleX(0.8343)">Mar 07</div>
<div class="t" id="x4" style="left:573.80px;top:318.80px;font-size:5.4px;color:#777;transform-origin:50% 50%;transform:translateX(-50%) scaleX(0.8343)">Mar 10</div>
<div class="t" id="c2a" style="left:640.00px;top:130.81px;font-size:8.9px;color:#3a3a3a;-webkit-text-stroke:.25px #3a3a3a;transform-origin:0 50%;transform:scaleX(0.7719)">PAGES BY VIEWS</div>
<div class="t" id="c2b" style="left:640.00px;top:140.73px;font-size:7.4px;color:#b2b2b2;transform-origin:0 50%;transform:scaleX(0.8349)">Last 14 days</div>
<div class="t" id="c2c" style="left:721.75px;top:192.24px;font-size:10.5px;color:#3d4f60;transform-origin:50% 50%;transform:translateX(-50%) scaleX(1.0826)">total</div>
<div class="t" id="c2d" style="left:722.00px;top:208.94px;font-size:21.5px;color:#2b3e50;font-weight:bold;transform-origin:50% 50%;transform:translateX(-50%) scaleX(0.9960)">30.42k</div>
<div class="t" id="v1a" style="left:305.00px;top:343.71px;font-size:8.9px;color:#3a3a3a;-webkit-text-stroke:.25px #3a3a3a;transform-origin:0 50%;transform:scaleX(0.7865)">VIEWS</div>
<div class="t" id="v1b" style="left:305.00px;top:354.43px;font-size:7.4px;color:#b2b2b2;transform-origin:0 50%;transform:scaleX(0.8331)">Last 14 days, daily</div>
<div class="t" id="v1c" style="left:318.00px;top:382.91px;font-size:32px;color:#2a8fcb;transform-origin:0 50%;transform:scaleX(0.9919)">37<span style="font-size:72%">.33k</span></div>
<div class="t" id="v1d" style="left:318.50px;top:413.96px;font-size:15.4px;color:#555;transform-origin:0 50%;transform:scaleX(0.9218)"><span style="color:#2bb673"><span style="font-size:72%;position:relative;top:-.5px">&#9650;</span>973</span> / day</div>
<div class="t" id="v2a" style="left:457.30px;top:343.71px;font-size:8.9px;color:#3a3a3a;-webkit-text-stroke:.25px #3a3a3a;transform-origin:0 50%;transform:scaleX(0.7865)">VIEWS</div>
<div class="t" id="v2b" style="left:457.30px;top:354.43px;font-size:7.4px;color:#b2b2b2;transform-origin:0 50%;transform:scaleX(0.8331)">Last 14 days, daily</div>
<div class="t" id="tp1" style="left:617.20px;top:363.63px;font-size:6.6px;color:#777;transform-origin:50% 50%;transform:translateX(-50%) scaleX(0.9394)">page views</div>
<div class="t" id="tp2" style="left:617.50px;top:376.60px;font-size:11.2px;color:#2a8fcb;transform-origin:50% 50%;transform:translateX(-50%) scaleX(1.0661)">37<span style="font-size:72%">.33k</span></div>
<div class="t" id="tp3" style="left:617.50px;top:387.60px;font-size:5.6px;color:#777;transform-origin:50% 50%;transform:translateX(-50%) scaleX(0.9484)"><span style="color:#2bb673"><span style="font-size:60%">&#9650;</span>973</span> / day</div>
<div class="t" id="x5" style="left:449.00px;top:440.50px;font-size:5.4px;color:#777;transform-origin:50% 50%;transform:translateX(-50%) scaleX(0.8335)">Feb 26</div>
<div class="t" id="x6" style="left:519.30px;top:440.50px;font-size:5.4px;color:#777;transform-origin:50% 50%;transform:translateX(-50%) scaleX(0.8343)">Mar 03</div>
<div class="t" id="x7" style="left:588.80px;top:440.50px;font-size:5.4px;color:#777;transform-origin:50% 50%;transform:translateX(-50%) scaleX(0.8343)">Mar 08</div>
<div class="t" id="v3a" style="left:670.00px;top:343.71px;font-size:8.9px;color:#3a3a3a;-webkit-text-stroke:.25px #3a3a3a;transform-origin:0 50%;transform:scaleX(0.7858)">TIME ON SITE</div>
<div class="t" id="v3b" style="left:670.00px;top:354.43px;font-size:7.4px;color:#b2b2b2;transform-origin:0 50%;transform:scaleX(0.8331)">Last 14 days, daily</div>
<div class="t" id="v3c" style="left:681.00px;top:379.51px;font-size:38.5px;color:#2a8fcb;transform-origin:0 50%;transform:scaleX(0.9235)">3:51<span style="font-size:72%">s</span></div>
<div class="t" id="la0" style="left:643.00px;top:278.81px;font-size:5.6px;color:#444;transform-origin:0 50%;transform:scaleX(1.0613)">/shared/jYz..</div>
<div class="t" id="lb0" style="left:698.50px;top:278.70px;font-size:5.4px;color:#262626;font-weight:bold;transform-origin:100% 50%;transform:translateX(-100%) scaleX(0.9697)">18.45k</div>
<div class="t" id="lc0" style="left:702.00px;top:278.70px;font-size:5.4px;color:#262626;font-weight:bold;transform-origin:0 50%;transform:scaleX(1.0000)">/</div>
<div class="t" id="ld0" style="left:715.00px;top:278.70px;font-size:5.4px;color:#262626;font-weight:bold;transform-origin:100% 50%;transform:translateX(-100%) scaleX(0.9262)">61%</div>
<div class="t" id="la1" style="left:643.00px;top:288.51px;font-size:5.6px;color:#444;transform-origin:0 50%;transform:scaleX(1.0020)">/agencies</div>
<div class="t" id="lb1" style="left:698.50px;top:288.90px;font-size:5.4px;color:#262626;font-weight:bold;transform-origin:100% 50%;transform:translateX(-100%) scaleX(0.9630)">1,198</div>
<div class="t" id="lc1" style="left:702.00px;top:288.90px;font-size:5.4px;color:#262626;font-weight:bold;transform-origin:0 50%;transform:scaleX(1.0000)">/</div>
<div class="t" id="ld1" style="left:715.00px;top:288.90px;font-size:5.4px;color:#262626;font-weight:bold;transform-origin:100% 50%;transform:translateX(-100%) scaleX(0.8337)">4%</div>
<div class="t" id="la2" style="left:643.00px;top:297.61px;font-size:5.6px;color:#444;transform-origin:0 50%;transform:scaleX(0.9764)">/login?lang=en</div>
<div class="t" id="lb2" style="left:698.50px;top:298.50px;font-size:5.4px;color:#262626;font-weight:bold;transform-origin:100% 50%;transform:translateX(-100%) scaleX(0.9444)">526</div>
<div class="t" id="lc2" style="left:702.00px;top:298.50px;font-size:5.4px;color:#262626;font-weight:bold;transform-origin:0 50%;transform:scaleX(1.0000)">/</div>
<div class="t" id="ld2" style="left:715.00px;top:298.50px;font-size:5.4px;color:#262626;font-weight:bold;transform-origin:100% 50%;transform:translateX(-100%) scaleX(0.8337)">2%</div>
<div class="t" id="la3" style="left:643.00px;top:307.81px;font-size:5.6px;color:#444;transform-origin:0 50%;transform:scaleX(0.9704)">/signup?lang=en</div>
<div class="t" id="lb3" style="left:698.50px;top:307.70px;font-size:5.4px;color:#262626;font-weight:bold;transform-origin:100% 50%;transform:translateX(-100%) scaleX(0.9444)">517</div>
<div class="t" id="lc3" style="left:702.00px;top:307.70px;font-size:5.4px;color:#262626;font-weight:bold;transform-origin:0 50%;transform:scaleX(1.0000)">/</div>
<div class="t" id="ld3" style="left:715.00px;top:307.70px;font-size:5.4px;color:#262626;font-weight:bold;transform-origin:100% 50%;transform:translateX(-100%) scaleX(0.8337)">2%</div>
<div class="t" id="la4" style="left:643.00px;top:317.51px;font-size:5.6px;color:#444;transform-origin:0 50%;transform:scaleX(0.9343)">/shared/yqwo..</div>
<div class="t" id="lb4" style="left:698.50px;top:317.90px;font-size:5.4px;color:#262626;font-weight:bold;transform-origin:100% 50%;transform:translateX(-100%) scaleX(0.9444)">501</div>
<div class="t" id="lc4" style="left:702.00px;top:317.90px;font-size:5.4px;color:#262626;font-weight:bold;transform-origin:0 50%;transform:scaleX(1.0000)">/</div>
<div class="t" id="ld4" style="left:715.00px;top:317.90px;font-size:5.4px;color:#262626;font-weight:bold;transform-origin:100% 50%;transform:translateX(-100%) scaleX(0.8337)">2%</div>
<div class="t" id="le0" style="left:736.00px;top:278.81px;font-size:5.6px;color:#444;transform-origin:0 50%;transform:scaleX(1.2800)">/</div>
<div class="t" id="lf0" style="left:790.80px;top:278.70px;font-size:5.4px;color:#262626;font-weight:bold;transform-origin:100% 50%;transform:translateX(-100%) scaleX(0.9481)">1,677</div>
<div class="t" id="lg0" style="left:795.60px;top:278.70px;font-size:5.4px;color:#262626;font-weight:bold;transform-origin:0 50%;transform:scaleX(1.0000)">/</div>
<div class="t" id="lh0" style="left:807.70px;top:278.70px;font-size:5.4px;color:#262626;font-weight:bold;transform-origin:100% 50%;transform:translateX(-100%) scaleX(0.8337)">6%</div>
<div class="t" id="le1" style="left:736.00px;top:288.51px;font-size:5.6px;color:#444;transform-origin:0 50%;transform:scaleX(1.0258)">/business/cut</div>
<div class="t" id="lf1" style="left:790.80px;top:288.90px;font-size:5.4px;color:#262626;font-weight:bold;transform-origin:100% 50%;transform:translateX(-100%) scaleX(0.9222)">591</div>
<div class="t" id="lg1" style="left:795.60px;top:288.90px;font-size:5.4px;color:#262626;font-weight:bold;transform-origin:0 50%;transform:scaleX(1.0000)">/</div>
<div class="t" id="lh1" style="left:807.70px;top:288.40px;font-size:5.4px;color:#262626;font-weight:bold;transform-origin:100% 50%;transform:translateX(-100%) scaleX(0.8337)">2%</div>
<div class="t" id="le2" style="left:736.00px;top:297.61px;font-size:5.6px;color:#444;transform-origin:0 50%;transform:scaleX(0.9786)">/tx/mbwwqq13</div>
<div class="t" id="lf2" style="left:790.80px;top:298.50px;font-size:5.4px;color:#262626;font-weight:bold;transform-origin:100% 50%;transform:translateX(-100%) scaleX(0.9222)">521</div>
<div class="t" id="lg2" style="left:795.60px;top:298.50px;font-size:5.4px;color:#262626;font-weight:bold;transform-origin:0 50%;transform:scaleX(1.0000)">/</div>
<div class="t" id="lh2" style="left:807.70px;top:298.00px;font-size:5.4px;color:#262626;font-weight:bold;transform-origin:100% 50%;transform:translateX(-100%) scaleX(0.8337)">2%</div>
<div class="t" id="le3" style="left:736.00px;top:307.81px;font-size:5.6px;color:#444;transform-origin:0 50%;transform:scaleX(1.0080)">/shared/ski8gx..</div>
<div class="t" id="lf3" style="left:790.80px;top:307.70px;font-size:5.4px;color:#262626;font-weight:bold;transform-origin:100% 50%;transform:translateX(-100%) scaleX(0.9222)">501</div>
<div class="t" id="lg3" style="left:795.60px;top:307.70px;font-size:5.4px;color:#262626;font-weight:bold;transform-origin:0 50%;transform:scaleX(1.0000)">/</div>
<div class="t" id="lh3" style="left:807.70px;top:307.70px;font-size:5.4px;color:#262626;font-weight:bold;transform-origin:100% 50%;transform:translateX(-100%) scaleX(0.8337)">2%</div>
<div class="t" id="le4" style="left:736.00px;top:317.51px;font-size:5.6px;color:#444;transform-origin:0 50%;transform:scaleX(0.9407)">Others</div>
<div class="t" id="lf4" style="left:790.80px;top:317.90px;font-size:5.4px;color:#262626;font-weight:bold;transform-origin:100% 50%;transform:translateX(-100%) scaleX(0.9481)">5,941</div>
<div class="t" id="lg4" style="left:794.70px;top:317.90px;font-size:5.4px;color:#262626;font-weight:bold;transform-origin:0 50%;transform:scaleX(1.0000)">/</div>
<div class="t" id="lh4" style="left:807.70px;top:317.40px;font-size:5.4px;color:#262626;font-weight:bold;transform-origin:100% 50%;transform:translateX(-100%) scaleX(0.9262)">20%</div>
<div class="t" id="tb1" style="left:316.00px;top:73.94px;font-size:7.6px;color:#3c3c3c;font-weight:bold;transform-origin:0 50%;transform:scaleX(0.9278)">Website Traffic</div>
<div class="t" id="tb2" style="left:389.30px;top:73.94px;font-size:7.6px;color:#3c3c3c;font-weight:bold;transform-origin:0 50%;transform:scaleX(0.9254)">Locations</div>
<div class="t" id="tb3" style="left:445.50px;top:73.94px;font-size:7.6px;color:#3c3c3c;font-weight:bold;transform-origin:0 50%;transform:scaleX(0.9314)">Metrics Overview</div>
<div class="t" id="tb4" style="left:520.00px;top:73.94px;font-size:7.6px;color:#3c3c3c;font-weight:bold;transform-origin:0 50%;transform:scaleX(0.9107)">Traffic Channels</div>
<div class="t" id="tb5" style="left:597.50px;top:73.94px;font-size:7.6px;color:#fff;font-weight:bold;transform-origin:0 50%;transform:scaleX(0.9284)">Website Content</div>
<div class="t" id="tb6" style="left:676.30px;top:73.94px;font-size:7.6px;color:#3c3c3c;font-weight:bold;transform-origin:0 50%;transform:scaleX(0.9234)">Metrics Breakdowns</div>
<div class="t" id="tb7" style="left:761.30px;top:73.94px;font-size:7.6px;color:#3c3c3c;font-weight:bold;transform-origin:0 50%;transform:scaleX(0.9294)">Traffic Sources</div>
<div class="abs" style="left:635.8px;top:279.6px;width:3.4px;height:3.4px;border-radius:50%;background:#0f9bd9"></div>
<div class="abs" style="left:635.8px;top:289.3px;width:3.4px;height:3.4px;border-radius:50%;background:#dc1e1e"></div>
<div class="abs" style="left:635.8px;top:298.9px;width:3.4px;height:3.4px;border-radius:50%;background:#2a5560"></div>
<div class="abs" style="left:635.8px;top:308.6px;width:3.4px;height:3.4px;border-radius:50%;background:#f5b32a"></div>
<div class="abs" style="left:635.8px;top:318.3px;width:3.4px;height:3.4px;border-radius:50%;background:#22364c"></div>
<div class="abs" style="left:728.8px;top:279.6px;width:3.4px;height:3.4px;border-radius:50%;background:#f36f13"></div>
<div class="abs" style="left:728.8px;top:289.3px;width:3.4px;height:3.4px;border-radius:50%;background:#21a884"></div>
<div class="abs" style="left:728.8px;top:298.9px;width:3.4px;height:3.4px;border-radius:50%;background:#29b6d8"></div>
<div class="abs" style="left:728.8px;top:308.6px;width:3.4px;height:3.4px;border-radius:50%;background:#8c1d24"></div>
<div class="abs" style="left:728.8px;top:318.3px;width:3.4px;height:3.4px;border-radius:50%;background:#cfcfcf"></div>
<div class="abs" style="left:309.0px;top:75.9px;width:2.6px;height:2.6px;border-radius:50%;background:#3c3c3c"></div>
<div class="abs" style="left:382.5px;top:75.9px;width:2.6px;height:2.6px;border-radius:50%;background:#3c3c3c"></div>
<div class="abs" style="left:438.5px;top:75.9px;width:2.6px;height:2.6px;border-radius:50%;background:#3c3c3c"></div>
<div class="abs" style="left:590.5px;top:75.9px;width:2.6px;height:2.6px;border-radius:50%;background:#fff"></div>
<div class="abs" style="left:668.7px;top:75.9px;width:2.6px;height:2.6px;border-radius:50%;background:#3c3c3c"></div>
<div class="abs" style="left:361.3px;top:142.1px;width:5px;height:5px;border-radius:50%;background:#d2d2d2"></div>
<div class="abs" style="left:681.5px;top:142.1px;width:5px;height:5px;border-radius:50%;background:#d2d2d2"></div>
<div class="abs" style="left:361.3px;top:355.7px;width:5px;height:5px;border-radius:50%;background:#d2d2d2"></div>
<div class="abs" style="left:513.6px;top:355.7px;width:5px;height:5px;border-radius:50%;background:#d2d2d2"></div>
<div class="abs" style="left:726.3px;top:355.7px;width:5px;height:5px;border-radius:50%;background:#d2d2d2"></div>
  </div>
  </div>
</div>
</body>
</html>
